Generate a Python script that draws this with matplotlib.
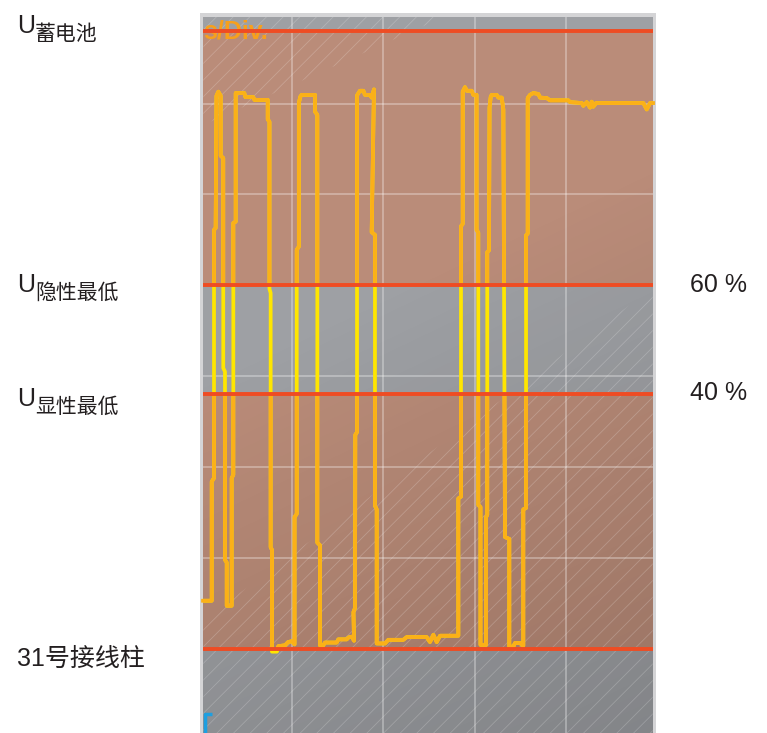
import numpy as np
import matplotlib.pyplot as plt
from matplotlib.patches import Rectangle, Polygon

plt.rcParams['font.family'] = ['Liberation Sans', 'Noto Sans CJK SC']
plt.rcParams['hatch.linewidth'] = 0.6

# ---- data (time in divisions, voltage in V) ----
trace_t = [0.031, 0.126, 0.126, 0.151, 0.151, 0.169, 0.178, 0.198, 0.224, 0.224,
           0.252, 0.252, 0.271, 0.271, 0.290, 0.290, 0.344, 0.344, 0.362, 0.362,
           0.388, 0.388, 0.482, 0.495, 0.580, 0.593, 0.738, 0.738, 0.757, 0.757,
           0.770, 0.770, 0.784, 0.784, 0.839, 0.854, 0.927, 0.960, 1.003, 1.031,
           1.031, 1.055, 1.055, 1.078, 1.078, 1.094, 1.109, 1.255, 1.255, 1.280,
           1.280, 1.309, 1.309, 1.345, 1.364, 1.492, 1.509, 1.601, 1.619, 1.656,
           1.681, 1.675, 1.692, 1.695, 1.714, 1.714, 1.717, 1.746, 1.783, 1.801,
           1.856, 1.874, 1.899, 1.874, 1.910, 1.910, 1.929, 1.929, 2.020, 2.056,
           2.220, 2.257, 2.475, 2.511, 2.548, 2.585, 2.621, 2.821, 2.821, 2.850,
           2.850, 2.869, 2.869, 2.894, 2.913, 2.967, 2.985, 3.020, 3.020, 3.039,
           3.039, 3.063, 3.063, 3.124, 3.124, 3.137, 3.137, 3.156, 3.162, 3.175,
           3.186, 3.240, 3.258, 3.295, 3.313, 3.331, 3.378, 3.378, 3.422, 3.440,
           3.495, 3.525, 3.531, 3.531, 3.561, 3.561, 3.579, 3.579, 3.604, 3.640,
           3.695, 3.714, 3.787, 3.823, 4.023, 4.042, 4.169, 4.187, 4.224, 4.260,
           4.279, 4.296, 4.326, 4.843, 4.880, 4.916, 4.949]
trace_v = [1.06, 1.06, 3.68, 3.76, 9.22, 9.26, 12.17, 12.26, 12.17, 10.85,
           10.80, 6.18, 6.10, 1.96, 1.90, 0.95, 0.95, 3.76, 3.83, 9.37,
           9.40, 12.23, 12.23, 12.14, 12.14, 12.08, 12.08, 11.65, 11.60, 7.92,
           7.83, 2.24, 2.18, -0.06, -0.06, 0.06, 0.08, 0.15, 0.17, 0.10,
           2.90, 2.97, 8.78, 8.85, 12.01, 12.15, 12.19, 12.19, 11.82, 11.75,
           2.34, 2.28, 0.08, 0.08, 0.14, 0.14, 0.21, 0.21, 0.25, 0.27,
           0.18, 0.81, 0.90, 4.71, 4.77, 12.17, 12.19, 12.28, 12.28, 12.19,
           12.19, 12.13, 12.31, 9.17, 9.11, 3.15, 3.07, 0.12, 0.12, 0.20,
           0.20, 0.26, 0.26, 0.15, 0.31, 0.15, 0.29, 0.29, 3.31, 3.35,
           9.30, 9.35, 12.26, 12.36, 12.28, 12.28, 12.19, 12.19, 9.22, 9.16,
           3.17, 3.12, 0.09, 0.09, 2.90, 2.95, 8.73, 8.77, 11.91, 12.15,
           12.19, 12.19, 12.13, 12.13, 11.87, 2.46, 2.42, 0.05, 0.05, 0.13,
           0.13, 0.07, 0.07, 3.07, 3.10, 9.10, 9.14, 12.12, 12.19, 12.23,
           12.21, 12.13, 12.12, 12.07, 12.07, 12.03, 12.01, 11.95, 12.03, 11.91,
           12.04, 11.93, 12.01, 12.01, 11.87, 12.01, 12.01]

rail_v = [13.6, 8.0, 5.6, 0.0]          # U battery, U recessive min, U dominant min, terminal 31
brown_bands = [(0.0, 5.6), (8.0, 13.6)]
grid_t = [1, 2, 3, 4]
grid_v = [2, 4, 6, 8, 10, 12]
x_lim = (0.034, 4.945)
y_lim = (-1.85, 13.91)

left_labels = [('U', '蓄电池', 33), ('U', '隐性最低', 292), ('U', '显性最低', 406)]
ground_label = '31号接线柱'
pct_labels = [('60 %', 292), ('40 %', 400)]

W, H = 767, 733
def fx(x): return x / W
def fy(y): return 1 - y / H

fig = plt.figure(figsize=(W / 100, H / 100), dpi=100)
fig.patches.append(Rectangle((fx(200), 0), fx(656) - fx(200), fy(13.3),
                             transform=fig.transFigure, facecolor='#d4d4d6',
                             edgecolor='none', zorder=-5))
ax = fig.add_axes([fx(203.3), 0, fx(652.7) - fx(203.3), fy(16.7)])
ax.set_zorder(1)
ax.set_facecolor('#9ea0a4')

for lo, hi in brown_bands:
    ax.axhspan(lo, hi, color='#ba8c79', lw=0, zorder=1)

# darkening toward the bottom right
xs = np.linspace(0, 1, 200)
ys = np.linspace(1, 0, 200)
X, Y = np.meshgrid(xs, ys)
shade = np.zeros((200, 200, 4))
shade[..., 3] = 0.17 * np.clip((0.3 * X + (1 - Y) - 0.5) / 0.8, 0, 1)
ax.imshow(shade, extent=(x_lim[0], x_lim[1], y_lim[0], y_lim[1]),
          aspect='auto', origin='upper', zorder=1.2, interpolation='bilinear')

# glare hatching
ax.add_patch(Polygon([(x_lim[0], y_lim[1]), (2.67, y_lim[1]), (x_lim[0], 11.53)],
                     fill=False, hatch='//', edgecolor=(1, 1, 1, 0.2), lw=0, zorder=1.3))
ax.add_patch(Polygon([(x_lim[0], 0.64), (x_lim[1], 7.94), (x_lim[1], y_lim[0]), (x_lim[0], y_lim[0])],
                     fill=False, hatch='//', edgecolor=(1, 1, 1, 0.2), lw=0, zorder=1.3))

ax.set_xticks(grid_t)
ax.set_yticks(grid_v)
ax.grid(color='white', alpha=0.38, lw=1.1)
ax.set_axisbelow('line')
ax.tick_params(length=0, labelbottom=False, labelleft=False)
for s in ax.spines.values():
    s.set_visible(False)

# trace: yellow in grey zone, orange in the brown zones
ax.plot(trace_t, trace_v, color='#ffe600', lw=2.7, zorder=2)
for lo, hi in brown_bands:
    ln, = ax.plot(trace_t, trace_v, color='#fbb018', lw=2.7, zorder=2.1)
    ln.set_clip_path(Rectangle((-1, lo), 10, hi - lo, transform=ax.transData))

ax.text(x_lim[0] - 0.005, 13.42, 's/Div.', color='#f7a01c', fontsize=18, fontweight='bold',
        va='baseline', ha='left', zorder=2.5, clip_on=True)

for v in rail_v:
    ax.axhline(v, color='#ef4c23', lw=2.8, zorder=3)

ax.plot([0.004, 0.004, 0.019], [0.0, 0.0265, 0.0265], transform=ax.transAxes,
        color='#1e9fe0', lw=2.5, zorder=3, clip_on=False, solid_capstyle='butt')

ax.set_xlim(*x_lim)
ax.set_ylim(*y_lim)

txt = '#231f20'
for big, sub, base in left_labels:
    fig.text(fx(17), fy(base), big, fontsize=18, color=txt, va='baseline')
    fig.text(fx(35), fy(base + 7), sub, fontsize=15, color=txt, va='baseline')
fig.text(fx(17), fy(666), ground_label, fontsize=18, color=txt, va='baseline')
for s, base in pct_labels:
    fig.text(fx(690), fy(base), s, fontsize=18, color=txt, va='baseline')

fig.savefig('out.png', dpi=100)
